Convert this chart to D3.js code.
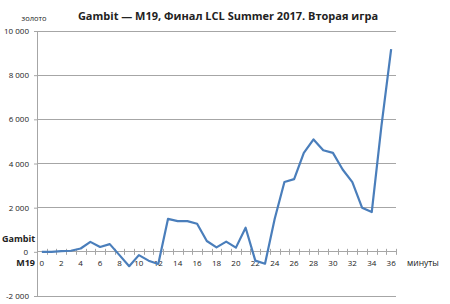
<!DOCTYPE html>
<html><head><meta charset="utf-8">
<script src="https://cdn.jsdelivr.net/npm/d3@7"></script>
<style>
body{margin:0;background:#fff;}
text{font-family:"Open Sans","Liberation Sans",sans-serif;fill:#222;}
</style></head>
<body><svg id="c" width="450" height="304"></svg>
<script>
const title = "Gambit — M19, Финал LCL Summer 2017. Вторая игра";
const minutes = d3.range(0, 37);
const goldDiff = [0, 0, 30, 50, 150, 450, 220, 350, -150, -650, -150, -400, -550,
  1490, 1390, 1390, 1270, 490, 200, 460, 190, 1090, -400, -540,
  1500, 3160, 3290, 4480, 5090, 4600, 4480, 3730, 3160, 2000, 1800, 5700, 9180];
const yTicks = [-2000, 0, 2000, 4000, 6000, 8000, 10000];
const xLabels = d3.range(0, 37, 2);

const svg = d3.select("#c");
const L = 37, R = 396, T = 31, B = 296;
const x = d3.scaleLinear().domain([-0.5, 36.5]).range([L, R]);
const y = d3.scaleLinear().domain([-2000, 10000]).range([B, T]);
const fmt = v => d3.format(",")(v).replace(/,/g, " ").replace("−", "-");

// gridlines
svg.append("g").selectAll("line").data(yTicks.filter(v => v !== 0)).join("line")
  .attr("x1", L).attr("x2", R).attr("y1", d => y(d)).attr("y2", d => y(d))
  .attr("stroke", "#a6a6a6").attr("stroke-width", 1).attr("shape-rendering", "crispEdges");

// y axis
const ya = svg.append("g").attr("transform", `translate(${L},0)`)
  .call(d3.axisLeft(y).tickValues(yTicks).tickSize(3).tickPadding(5).tickFormat(fmt));
ya.select(".domain").attr("stroke", "#a6a6a6");
ya.selectAll(".tick line").attr("stroke", "#a6a6a6");
ya.selectAll(".tick text").style("font-size", "8px").style("fill", "#222")
  .attr("x", -8);
ya.selectAll(".tick").filter(d => d === 0).select("text").attr("x", -9);

// x axis at zero, ticks crossing
const xa = svg.append("g").attr("transform", `translate(0,${y(0)})`);
xa.append("line").attr("x1", L).attr("x2", R).attr("y1", 0).attr("y2", 0)
  .attr("stroke", "#a6a6a6").attr("shape-rendering", "crispEdges");
xa.selectAll("line.t").data(d3.range(0, 38)).join("line").attr("class", "t")
  .attr("x1", d => Math.round(x(d - 0.5)) + 0.5).attr("x2", d => Math.round(x(d - 0.5)) + 0.5)
  .attr("y1", -3).attr("y2", 3).attr("stroke", "#a6a6a6");
xa.selectAll("text").data(xLabels).join("text")
  .attr("x", d => x(d)).attr("y", 14).attr("text-anchor", "middle")
  .style("font-size", "8px").text(d => d);

// line
svg.append("path").datum(minutes.map((m, i) => [m, goldDiff[i]]))
  .attr("fill", "none").attr("stroke", "#4a7ebb").attr("stroke-width", 2.2)
  .attr("stroke-linejoin", "round")
  .attr("d", d3.line().x(d => x(d[0])).y(d => y(d[1])));

// texts
svg.append("text").attr("x", 228).attr("y", 20).attr("text-anchor", "middle")
  .style("font-size", "11px").style("font-weight", "bold").text(title);
svg.append("text").attr("x", 34).attr("y", 21).attr("text-anchor", "middle")
  .style("font-size", "7.5px").text("золото");
svg.append("text").attr("x", 2).attr("y", 242)
  .style("font-size", "9px").style("font-weight", "bold").text("Gambit");
svg.append("text").attr("x", 35).attr("y", 266).attr("text-anchor", "end")
  .style("font-size", "9px").style("font-weight", "bold").text("M19");
svg.append("text").attr("x", 407).attr("y", 266)
  .style("font-size", "8.5px").text("минуты");
</script></body></html>
